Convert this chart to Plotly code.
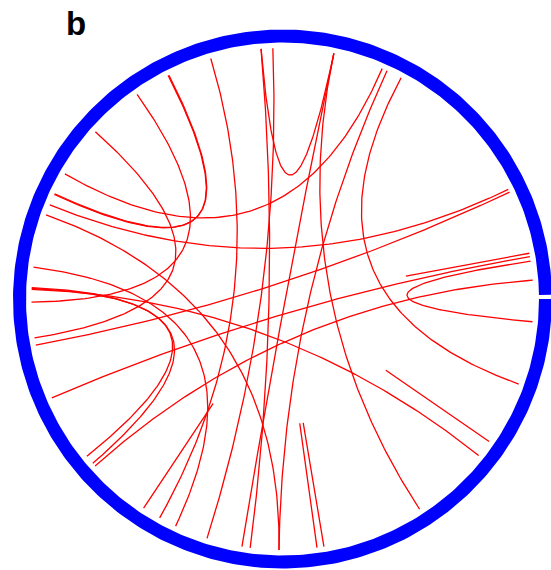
import numpy as np
import plotly.graph_objects as go

# ---- data: chord endpoints (angle on the circle, degrees, counter-clockwise from 3 o'clock)
link_from = [94.9, 94.9, 92.2, 78.2, 78.2, 66.6, 65.4, 61.8, 106.6, 116.9, 117.1,
             125.4, 138.2, 158.0, 160.4, 172.7, 177.6, 177.4, 177.8, 190.6, 203.2,
             221.7, 8.7, 236.4, 277.9, 279.5, 325.4, 10.5]
link_to = [78.2, 262.6, 252.5, 303.1, 260.7, 150.1, 269.2, 340.2, 240.7, 155.2, 155.4,
           180.7, 188.9, 25.9, 269.2, 244.8, 218.8, 220.9, 321.4, 25.2, 9.7,
           4.3, 354.8, 236.4, 277.9, 279.5, 325.4, 10.5]

sector_start = 0.9    # degrees, ring starts just above 3 o'clock
sector_end = 360.0    # ring closes with a small gap
panel_label = "b"

# ---- geometry (pixel-like units, centre of the circle at 0,0)
R_LINK = 251.0
R_IN, R_OUT = 256.5, 269.5

fig = go.Figure()

# ring
a_out = np.radians(np.linspace(sector_start, sector_end, 400))
a_in = a_out[::-1]
rx = np.concatenate([R_OUT * np.cos(a_out), R_IN * np.cos(a_in), [R_OUT * np.cos(a_out[0])]])
ry = np.concatenate([R_OUT * np.sin(a_out), R_IN * np.sin(a_in), [R_OUT * np.sin(a_out[0])]])
fig.add_trace(go.Scatter(x=rx, y=ry, mode="lines", fill="toself", fillcolor="#0000FF",
                         line=dict(width=0, color="#0000FF"), hoverinfo="skip", showlegend=False))

# chords: quadratic Bezier curves with the control point at the centre
t = np.linspace(0, 1, 120)
xs, ys = [], []
for a0, a1 in zip(link_from, link_to):
    p0 = np.array([np.cos(np.radians(a0)), np.sin(np.radians(a0))]) * R_LINK
    p2 = np.array([np.cos(np.radians(a1)), np.sin(np.radians(a1))]) * R_LINK
    bx = (1 - t) ** 2 * p0[0] + t ** 2 * p2[0]
    by = (1 - t) ** 2 * p0[1] + t ** 2 * p2[1]
    xs.extend(bx.tolist() + [None])
    ys.extend(by.tolist() + [None])
fig.add_trace(go.Scatter(x=xs, y=ys, mode="lines", line=dict(color="#FF0000", width=1.3),
                         hoverinfo="skip", showlegend=False))

fig.add_annotation(x=-206.5, y=276, text="<b>%s</b>" % panel_label, showarrow=False,
                   xanchor="center", yanchor="middle",
                   font=dict(family="Liberation Sans, Arial", size=33, color="black"))

fig.update_layout(
    width=551, height=570, margin=dict(l=0, r=0, t=0, b=0),
    paper_bgcolor="white", plot_bgcolor="white",
    xaxis=dict(range=[-282.5, 268.5], visible=False, fixedrange=True),
    yaxis=dict(range=[-271, 299], visible=False, fixedrange=True),
    showlegend=False,
)
fig.write_html("out.html")
